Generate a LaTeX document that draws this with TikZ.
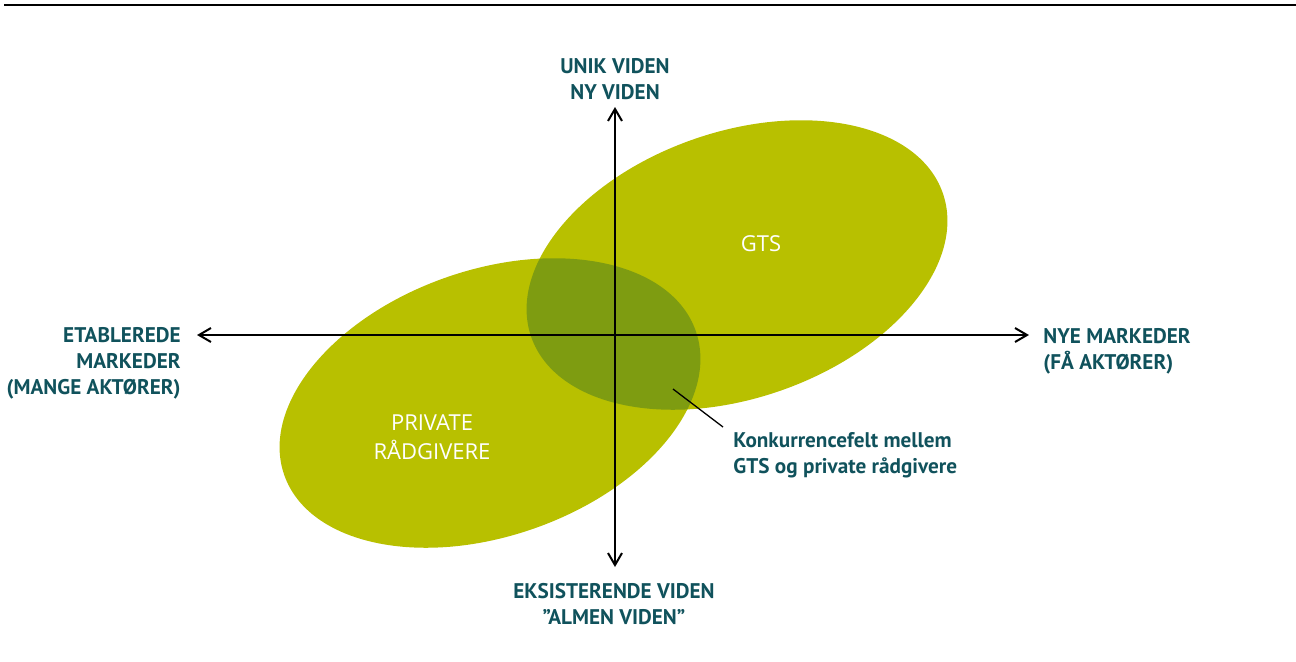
\documentclass[tikz,border=0pt]{standalone}
\usepackage{fontspec}
\setmainfont{PT Sans}
\newfontfamily\bubblefont{Open Sans}
\usetikzlibrary{positioning,arrows.meta}

\definecolor{fieldgreen}{RGB}{184,192,0}
\definecolor{overlapgreen}{RGB}{126,156,17}
\definecolor{labelteal}{RGB}{16,82,92}

\tikzset{
  privatefield/.style={rotate around={19.3:(490,403)}},
  gtsfield/.style={rotate around={19.3:(737,265)}},
}

\begin{document}
\begin{tikzpicture}[x=0.5pt,y=-0.5pt,
  axis/.style={line width=1pt,{Straight Barb[length=6pt,width=7pt]}-{Straight Barb[length=6pt,width=7pt]}},
  axlabel/.style={font=\bfseries\fontsize{10.6}{13}\selectfont,text=labelteal,inner sep=0pt},
  bubblelabel/.style={font=\bubblefont\fontsize{11}{14.5}\selectfont,text=white,align=center,inner sep=0pt},
  leader/.style={line width=0.65pt}]
  \useasboundingbox (0,0) rectangle (1296,661);

  % rule along the top
  \draw[line width=0.8pt] (4,5) -- (1296,5);

  % the two fields and their common part
  \fill[fieldgreen,privatefield] (490,403) ellipse [x radius=218,y radius=133];
  \fill[fieldgreen,gtsfield] (737,265) ellipse [x radius=218,y radius=133];
  \begin{scope}
    \clip[privatefield] (490,403) ellipse [x radius=218,y radius=133];
    \fill[overlapgreen,gtsfield] (737,265) ellipse [x radius=218,y radius=133];
  \end{scope}

  \node[bubblelabel] (gts) at (761,244) {GTS};
  \node[bubblelabel] (private) at (432,437) {PRIVATE\\RÅDGIVERE};

  % axes
  \coordinate (north) at (615,107);
  \coordinate (south) at (615,567);
  \coordinate (west) at (197,335);
  \coordinate (east) at (1029,335);
  \draw[axis] (west) -- (east);
  \draw[axis] (north) -- (south);

  \node[axlabel,align=center] (newknow) at (615,79) {UNIK VIDEN\\NY VIDEN};
  \node[axlabel,align=center] (oldknow) at (614,604) {EKSISTERENDE VIDEN\\"ALMEN VIDEN"};
  \node[axlabel,align=right,anchor=east] (oldmarket) at (181,363) {ETABLEREDE\\MARKEDER\\(MANGE AKTØRER)};
  \node[axlabel,align=left,anchor=west] (newmarket) at (1043,351) {NYE MARKEDER\\(FÅ AKTØRER)};

  % pointer to the common part
  \node[axlabel,align=left,anchor=west] (compete) at (733,455) {Konkurrencefelt mellem\\GTS og private rådgivere};
  \coordinate (overlap) at (673,389);
  \coordinate (compete end) at (723,427);
  \draw[leader] (overlap) -- (compete end);
\end{tikzpicture}
\end{document}
